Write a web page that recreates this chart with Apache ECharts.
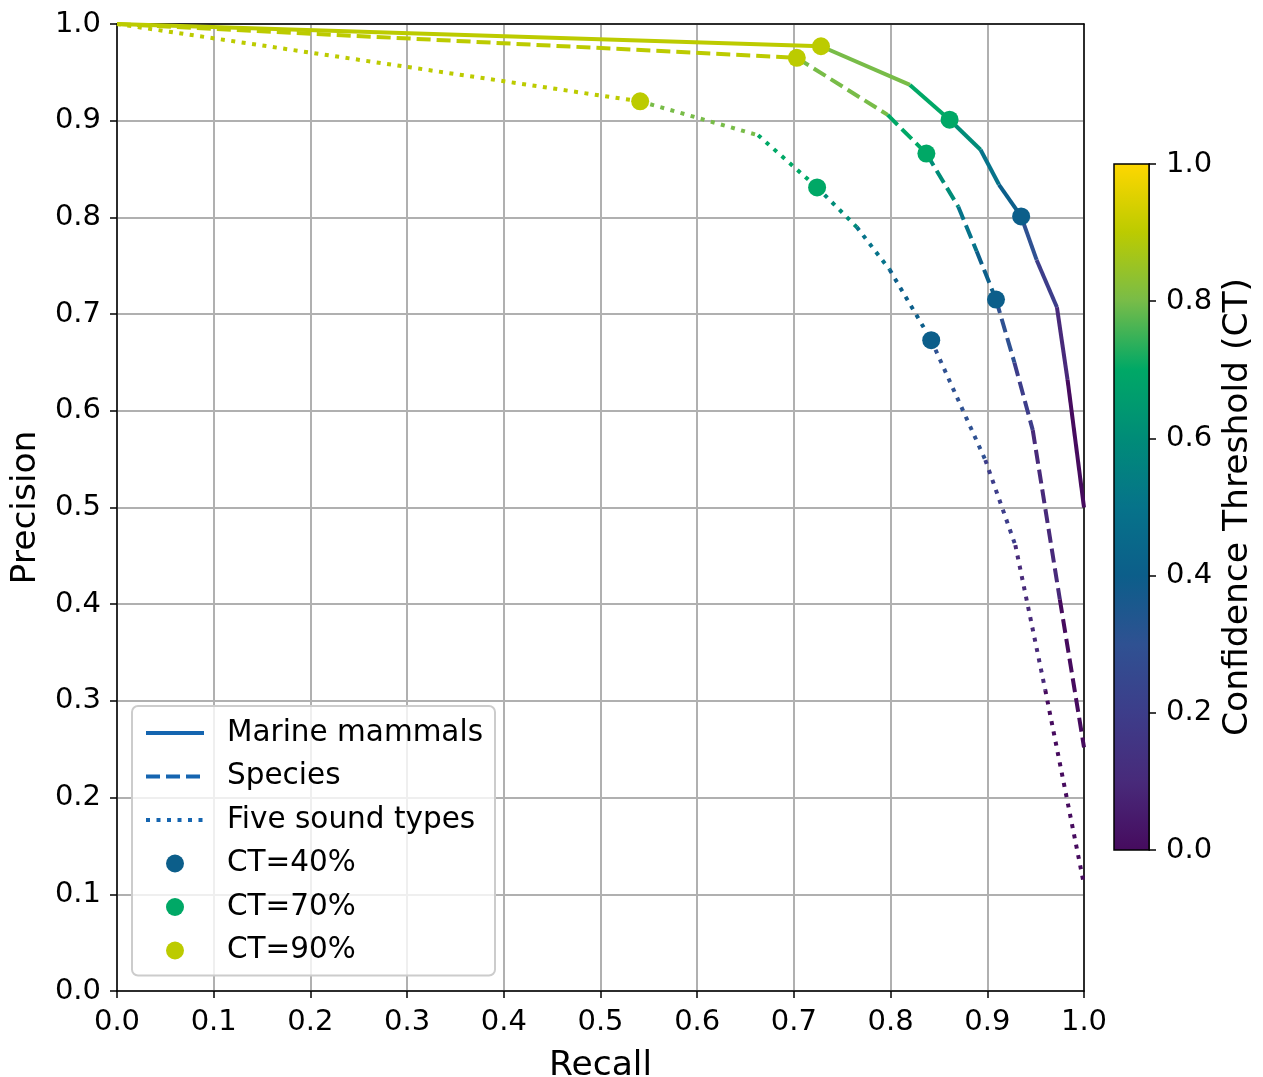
<!DOCTYPE html>
<html>
<head>
<meta charset="utf-8">
<script src="https://cdn.jsdelivr.net/npm/echarts@6/dist/echarts.min.js"></script>
<style>
html,body{margin:0;padding:0;background:#fff;}
#chart{width:1263px;height:1077px;}
</style>
</head>
<body>
<div id="chart"></div>
<script>
// ---- data ----
const thresholds = [1.0, 0.9, 0.8, 0.7, 0.6, 0.5, 0.4, 0.3, 0.2, 0.1, 0.0];
const mammalsRecall    = [0.000, 0.728, 0.820, 0.861, 0.893, 0.912, 0.935, 0.951, 0.972, 0.983, 1.000];
const mammalsPrecision = [1.000, 0.977, 0.937, 0.901, 0.870, 0.834, 0.801, 0.756, 0.707, 0.632, 0.500];
const speciesRecall    = [0.000, 0.703, 0.797, 0.837, 0.870, 0.889, 0.909, 0.928, 0.947, 0.975, 1.000];
const speciesPrecision = [1.000, 0.965, 0.906, 0.866, 0.811, 0.765, 0.715, 0.650, 0.580, 0.405, 0.252];
const soundRecall      = [0.000, 0.541, 0.663, 0.724, 0.765, 0.799, 0.842, 0.898, 0.929, 0.960, 1.000];
const soundPrecision   = [1.000, 0.920, 0.885, 0.831, 0.790, 0.746, 0.673, 0.549, 0.461, 0.311, 0.110];
const curveNames = ['Marine mammals', 'Species', 'Five sound types'];
const markerThresholds = [0.4, 0.7, 0.9];
const markerNames = ['CT=40%', 'CT=70%', 'CT=90%'];
const axisTicks = ['0.0','0.1','0.2','0.3','0.4','0.5','0.6','0.7','0.8','0.9','1.0'];
const colorbarTicks = ['0.0','0.2','0.4','0.6','0.8','1.0'];

// ---- colormap ----
const cmapPos = [0, 0.1, 0.2, 0.3, 0.4, 0.5, 0.6, 0.7, 0.8, 0.9, 1.0];
const cmapColors = ['#460b5e','#482a7a','#3d3d8a','#2f5192','#0c5e8a','#06738a','#008c78','#00a866','#78bc48','#bccb00','#ffd700'];
function hex2rgb(h){return [parseInt(h.slice(1,3),16),parseInt(h.slice(3,5),16),parseInt(h.slice(5,7),16)];}
function cmap(t){
  for (let i=0;i<cmapPos.length-1;i++){
    if (t<=cmapPos[i+1]+1e-9){
      const f=(t-cmapPos[i])/(cmapPos[i+1]-cmapPos[i]);
      const a=hex2rgb(cmapColors[i]), b=hex2rgb(cmapColors[i+1]);
      const c=a.map((v,k)=>Math.round(v+(b[k]-v)*f));
      return 'rgb('+c.join(',')+')';
    }
  }
  return cmapColors[cmapColors.length-1];
}

const FONT = 'DejaVu Sans';
const LW = 4;
const lineTypes = ['solid', [14, 6], [4, 6.5]];
const legendBlue = '#1565b0';
const curves = [
  [mammalsRecall, mammalsPrecision],
  [speciesRecall, speciesPrecision],
  [soundRecall, soundPrecision]
];

const series = [];
curves.forEach((c, ci) => {
  const [r, p] = c;
  for (let i = 0; i < r.length - 1; i++) {
    series.push({
      type: 'line', xAxisIndex: 0, yAxisIndex: 0,
      data: [[r[i], p[i]], [r[i+1], p[i+1]]],
      symbol: 'none', showSymbol: false, silent: true, z: 3,
      lineStyle: { color: cmap(thresholds[i+1]), width: LW, type: lineTypes[ci], cap: 'butt' }
    });
  }
});
// legend-only line entries
curveNames.forEach((n, ci) => {
  series.push({
    name: n, type: 'line', xAxisIndex: 0, yAxisIndex: 0, data: [],
    symbol: 'none', showSymbol: false,
    lineStyle: { color: legendBlue, width: LW, type: lineTypes[ci] },
    itemStyle: { color: legendBlue }
  });
});
// markers
markerThresholds.forEach((t, mi) => {
  const idx = thresholds.indexOf(t);
  series.push({
    name: markerNames[mi], type: 'scatter', xAxisIndex: 0, yAxisIndex: 0,
    symbol: 'circle', symbolSize: 18, z: 5, silent: true,
    itemStyle: { color: cmap(t), opacity: 1 },
    data: curves.map(c => [c[0][idx], c[1][idx]])
  });
});
// colorbar
series.push({
  type: 'custom', xAxisIndex: 1, yAxisIndex: 2, silent: true,
  data: [[0, 0]],
  renderItem: function (params, api) {
    const p0 = api.coord([0, 0]);
    const p1 = api.coord([1, 1]);
    const stops = cmapPos.map((pos, i) => ({ offset: pos, color: cmapColors[i] }));
    return {
      type: 'rect',
      shape: { x: p0[0], y: p1[1], width: p1[0] - p0[0], height: p0[1] - p1[1] },
      style: { fill: new echarts.graphic.LinearGradient(0, 1, 0, 0, stops), stroke: '#000', lineWidth: 1.5 }
    };
  }
});

const tickLabel = { fontFamily: FONT, fontSize: 29, color: '#000' };
const legendData = curveNames.map((n, ci) => ({
    name: n, itemStyle: { opacity: 0 },
    lineStyle: { width: LW, color: legendBlue, type: lineTypes[ci], opacity: 1 }
  }))
  .concat(markerNames.map(n => ({ name: n, icon: 'circle' })));
const option = {
  animation: false,
  backgroundColor: '#fff',
  grid: [
    { left: 117, top: 24, width: 967, height: 967, outerBoundsMode: 'none', containLabel: false },
    { left: 1114, top: 164, width: 35, height: 686, outerBoundsMode: 'none', containLabel: false }
  ],
  legend: {
    data: legendData,
    orient: 'vertical', left: 132, top: 706,
    itemWidth: 58, itemHeight: 18, itemGap: 13.5,
    padding: [12, 12, 10, 12],
    backgroundColor: 'rgba(255,255,255,0.8)',
    borderColor: '#cccccc', borderWidth: 2, borderRadius: 6,
    selectedMode: false,
    textStyle: { fontFamily: FONT, fontSize: 29.5, color: '#000', lineHeight: 30, padding: [0, 0, 0, 18] }
  },
  xAxis: [
    {
      gridIndex: 0, type: 'value', min: 0, max: 1, interval: 0.1,
      name: 'Recall', nameLocation: 'middle', nameGap: 58,
      nameTextStyle: { fontFamily: FONT, fontSize: 34.5, color: '#000' },
      axisLine: { show: true, onZero: false, lineStyle: { color: '#000', width: 1.5 } },
      axisTick: { show: true, inside: false, length: 7, lineStyle: { color: '#000', width: 1.5 } },
      axisLabel: Object.assign({ margin: 17, formatter: v => axisTicks[Math.round(v * 10)] }, tickLabel),
      splitLine: { show: true, lineStyle: { color: '#b0b0b0', width: 2 } }
    },
    { gridIndex: 1, type: 'value', min: 0, max: 1, show: false },
    {
      gridIndex: 0, type: 'value', min: 0, max: 1, position: 'top',
      axisLine: { show: true, onZero: false, lineStyle: { color: '#000', width: 1.5 } },
      axisTick: { show: false }, axisLabel: { show: false }, splitLine: { show: false }
    }
  ],
  yAxis: [
    {
      gridIndex: 0, type: 'value', min: 0, max: 1, interval: 0.1,
      name: 'Precision', nameLocation: 'middle', nameGap: 73,
      nameTextStyle: { fontFamily: FONT, fontSize: 34.5, color: '#000' },
      axisLine: { show: true, onZero: false, lineStyle: { color: '#000', width: 1.5 } },
      axisTick: { show: true, inside: false, length: 7, lineStyle: { color: '#000', width: 1.5 } },
      axisLabel: Object.assign({ margin: 16, formatter: v => axisTicks[Math.round(v * 10)] }, tickLabel),
      splitLine: { show: true, lineStyle: { color: '#b0b0b0', width: 2 } }
    },
    {
      gridIndex: 0, type: 'value', min: 0, max: 1, position: 'right',
      axisLine: { show: true, onZero: false, lineStyle: { color: '#000', width: 1.5 } },
      axisTick: { show: false }, axisLabel: { show: false }, splitLine: { show: false }
    },
    {
      gridIndex: 1, type: 'value', min: 0, max: 1, interval: 0.2, position: 'right',
      name: 'Confidence Threshold (CT)', nameLocation: 'middle', nameGap: 72, nameRotate: 90,
      nameTextStyle: { fontFamily: FONT, fontSize: 34.5, color: '#000' },
      axisLine: { show: true, onZero: false, lineStyle: { color: '#000', width: 1.5 } },
      axisTick: { show: true, inside: false, length: 7, lineStyle: { color: '#000', width: 1.5 } },
      axisLabel: Object.assign({ margin: 17, formatter: v => colorbarTicks[Math.round(v * 5)] }, tickLabel),
      splitLine: { show: false }
    }
  ],
  series: series
};
const chart = echarts.init(document.getElementById('chart'), null, { renderer: 'canvas' });
chart.setOption(option);
</script>
</body>
</html>
